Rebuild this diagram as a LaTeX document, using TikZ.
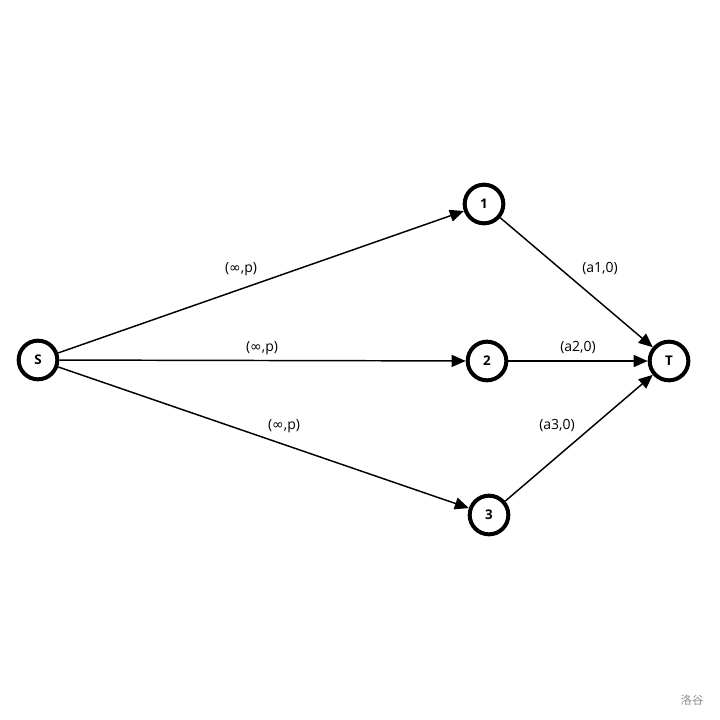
\documentclass[tikz,border=0pt]{standalone}
\usepackage{fontspec}
\setmainfont{Open Sans}
\newfontfamily\symfont{DejaVu Sans}
\newfontfamily\cjk{Noto Sans CJK SC}
\usetikzlibrary{arrows.meta}

\begin{document}
\begin{tikzpicture}[x=0.75pt,y=-0.75pt,
  vtx/.style={circle,draw=black,line width=3pt,minimum size=29pt,inner sep=0pt,font=\bfseries\fontsize{10}{12}\selectfont},
  arc/.style={line width=1.1pt,-{Triangle[length=10.5pt,width=9pt]}},
  lbl/.style={font=\fontsize{10.5}{12}\selectfont,inner sep=1pt}]
\useasboundingbox (0,0) rectangle (720,720);
\node[vtx] (S) at (38,360) {S};
\node[vtx] (v1) at (484,204) {1};
\node[vtx] (v2) at (487,361) {2};
\node[vtx] (v3) at (489,515) {3};
\node[vtx] (T) at (669,361) {T};
\draw[arc] (S) -- (v1);
\draw[arc] (S) -- (v2);
\draw[arc] (S) -- (v3);
\draw[arc] (v1) -- (T);
\draw[arc] (v2) -- (T);
\draw[arc] (v3) -- (T);
\node[lbl] (l1) at (241,269) {({\symfont ∞},p)};
\node[lbl] (l2) at (262,348) {({\symfont ∞},p)};
\node[lbl] (l3) at (284,426) {({\symfont ∞},p)};
\node[lbl] (a1) at (600,269) {(a1,0)};
\node[lbl] (a2) at (578,348) {(a2,0)};
\node[lbl] (a3) at (557,426) {(a3,0)};
\node[font=\cjk\fontsize{8.5}{10}\selectfont,text=black!45] (wm) at (692,700) {洛谷};
\end{tikzpicture}
\end{document}
